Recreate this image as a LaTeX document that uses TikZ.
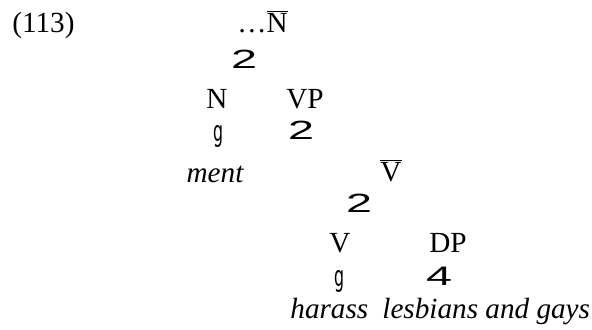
\documentclass[tikz,border=0pt]{standalone}
\usepackage{fontspec}
\setmainfont{Liberation Serif}
\newfontfamily\branchfont{Liberation Sans}
\newfontfamily\stemfont{DejaVu Sans}
\tikzset{
  lbl/.style={inner sep=0pt, font=\fontsize{14.6}{17}\selectfont},
  leaf/.style={lbl, font=\fontsize{14.6}{17}\selectfont\itshape},
  fork/.style={inner sep=0pt},
}
\newcommand{\forkglyph}{\resizebox{13pt}{9.2pt}{\branchfont 2}}
\newcommand{\stemglyph}{\resizebox*{5pt}{11pt}{\stemfont g}}
\newcommand{\roofglyph}{\resizebox{13pt}{9.2pt}{\branchfont 4}}
\newcommand{\barred}[1]{$\overline{\hbox{#1}}$}
\begin{document}
\begin{tikzpicture}[x=0.5pt,y=-0.5pt]
  \useasboundingbox (0,0) rectangle (592,330);
  % example number
  \node[lbl, anchor=base west] (num) at (12,33) {(113)};
  % root
  \node[lbl, anchor=base west] (root) at (237,33) {\ldots\barred{N}};
  \node[fork] (f1) at (244,59) {\forkglyph};
  % N and VP
  \node[lbl, anchor=base] (n) at (217,109) {N};
  \node[lbl, anchor=base] (vp) at (305,109) {VP};
  \node[fork] (s1) at (218,136) {\stemglyph};
  \node[fork] (f2) at (301,130) {\forkglyph};
  \node[leaf, anchor=base] (ment) at (215,183) {ment};
  % V-bar
  \node[lbl, anchor=base] (vbar) at (391,182) {\barred{V}};
  \node[fork] (f3) at (359,203) {\forkglyph};
  % V and DP
  \node[lbl, anchor=base] (v) at (340,253) {V};
  \node[lbl, anchor=base] (dp) at (448,253) {DP};
  \node[fork] (s2) at (339,281) {\stemglyph};
  \node[fork] (r1) at (439,276) {\roofglyph};
  % leaves
  \node[leaf, anchor=base west] (harass) at (290,318) {harass};
  \node[leaf, anchor=base west] (lgb) at (382,318) {lesbians and gays};
\end{tikzpicture}
\end{document}
